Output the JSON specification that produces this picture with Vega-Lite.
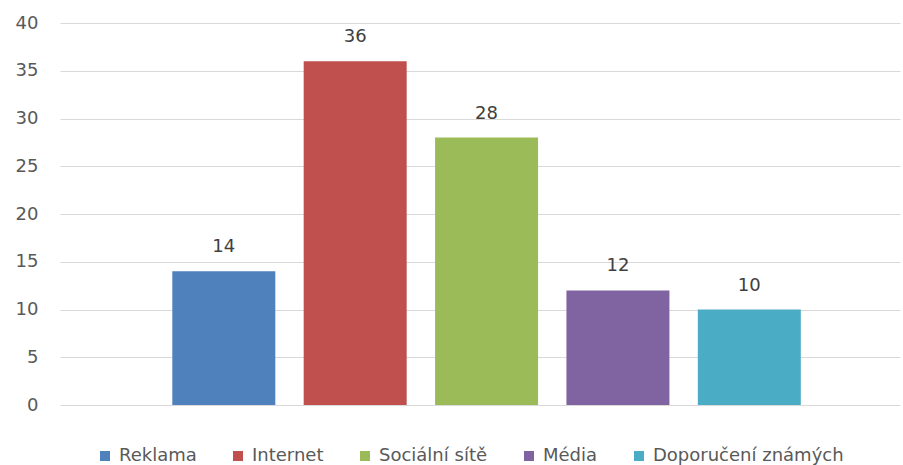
{
  "$schema": "https://vega.github.io/schema/vega-lite/v6.json",
  "width": 840,
  "height": 382,
  "autosize": "none",
  "padding": {"left": 60, "top": 23, "right": 3, "bottom": 60},
  "background": "#ffffff",
  "config": {
    "view": {"stroke": null},
    "font": "DejaVu Sans"
  },
  "data": {
    "values": [
      {"zdroj": "Reklama", "pocet": 14},
      {"zdroj": "Internet", "pocet": 36},
      {"zdroj": "Sociální sítě", "pocet": 28},
      {"zdroj": "Média", "pocet": 12},
      {"zdroj": "Doporučení známých", "pocet": 10}
    ]
  },
  "encoding": {
    "x": {
      "field": "zdroj",
      "type": "nominal",
      "sort": null,
      "scale": {"paddingInner": 0.216, "paddingOuter": 0.805, "align": 0.531},
      "axis": null
    },
    "y": {
      "field": "pocet",
      "type": "quantitative",
      "scale": {"domain": [0, 40], "nice": false},
      "axis": {
        "title": null,
        "values": [0, 5, 10, 15, 20, 25, 30, 35, 40],
        "domain": false,
        "ticks": false,
        "tickSize": 0,
        "labelPadding": 22,
        "labelFontSize": 18,
        "labelColor": "#595959",
        "gridColor": "#D9D9D9",
        "gridWidth": 1
      }
    }
  },
  "layer": [
    {
      "mark": {"type": "bar"},
      "encoding": {
        "color": {
          "field": "zdroj",
          "type": "nominal",
          "sort": null,
          "scale": {
            "domain": ["Reklama", "Internet", "Sociální sítě", "Média", "Doporučení známých"],
            "range": ["#4F81BD", "#C0504D", "#9BBB59", "#8064A2", "#4BACC6"]
          },
          "legend": {
            "title": null,
            "orient": "none",
            "direction": "horizontal",
            "legendX": 36,
            "legendY": 424,
            "padding": 0,
            "symbolType": "square",
            "symbolSize": 100,
            "symbolStrokeWidth": 0,
            "symbolOpacity": 1,
            "labelFontSize": 18,
            "labelColor": "#595959",
            "labelOffset": 5,
            "labelLimit": 400,
            "columnPadding": 32
          }
        }
      }
    },
    {
      "mark": {"type": "text", "baseline": "alphabetic", "dy": -19, "fontSize": 18, "color": "#404040"},
      "encoding": {
        "text": {"field": "pocet", "type": "quantitative"}
      }
    }
  ]
}
